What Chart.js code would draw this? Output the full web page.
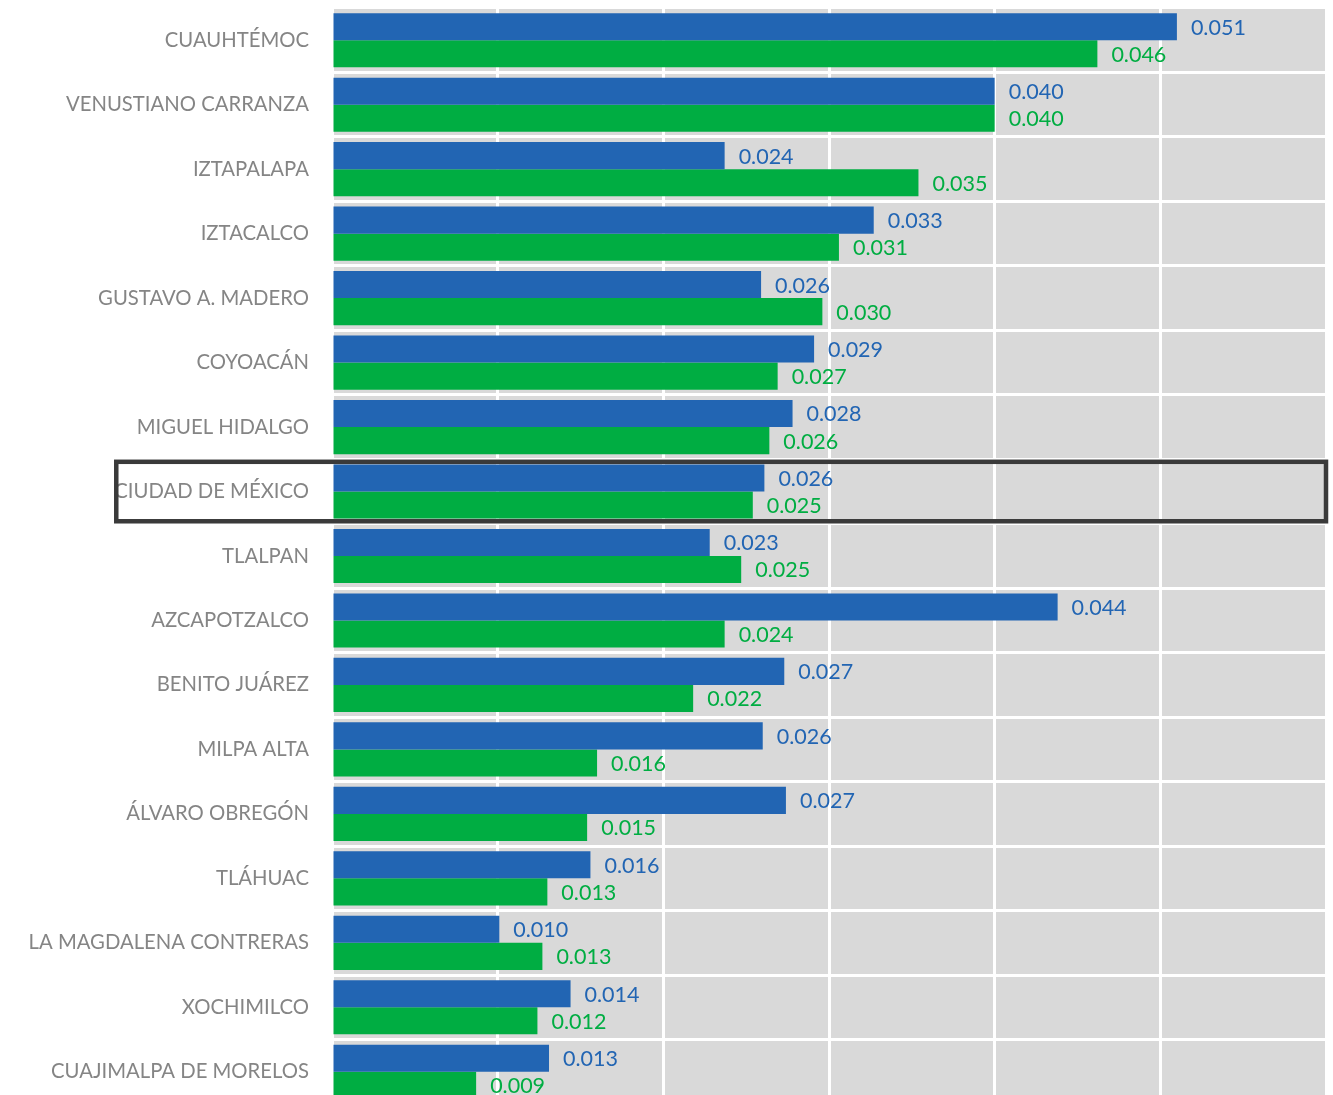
<!DOCTYPE html>
<html>
<head>
<meta charset="utf-8">
<script src="https://cdn.jsdelivr.net/npm/chart.js@4/dist/chart.umd.min.js"></script>
<style>
  html, body { margin: 0; padding: 0; background: #fff; overflow: hidden; }
  #wrap { position: relative; width: 1333px; height: 1104px; }
</style>
</head>
<body>
<div id="wrap"><canvas id="chart"></canvas></div>
<script>
// alcaldías, top to bottom
const categories = [
  "CUAUHTÉMOC", "VENUSTIANO CARRANZA", "IZTAPALAPA", "IZTACALCO",
  "GUSTAVO A. MADERO", "COYOACÁN", "MIGUEL HIDALGO", "CIUDAD DE MÉXICO",
  "TLALPAN", "AZCAPOTZALCO", "BENITO JUÁREZ", "MILPA ALTA",
  "ÁLVARO OBREGÓN", "TLÁHUAC", "LA MAGDALENA CONTRERAS", "XOCHIMILCO",
  "CUAJIMALPA DE MORELOS"
];
const blueValues = [
  0.0510, 0.0400, 0.0237, 0.0327, 0.0259, 0.0291, 0.0278, 0.0261,
  0.0228, 0.0438, 0.0273, 0.0260, 0.0274, 0.0156, 0.0101, 0.0144, 0.0131
];
const greenValues = [
  0.0462, 0.0400, 0.0354, 0.0306, 0.0296, 0.0269, 0.0264, 0.0254,
  0.0247, 0.0237, 0.0218, 0.0160, 0.0154, 0.0130, 0.0127, 0.0124, 0.0087
];
const highlightCategory = "CIUDAD DE MÉXICO";

const BLUE = "#2265b3";
const GREEN = "#00ad42";
const FONT = "Lato, 'Open Sans', sans-serif";
const CAT_FONT_SIZE = 20.3;

const plotBg = {
  id: "plotBg",
  beforeDraw(chart) {
    const { ctx, chartArea: a } = chart;
    ctx.save();
    ctx.fillStyle = "#d9d9d9";
    ctx.fillRect(a.left, a.top, a.right - a.left, a.bottom - a.top);
    ctx.restore();
  },
};

const valueLabels = {
  id: "valueLabels",
  afterDatasetsDraw(chart) {
    const ctx = chart.ctx;
    ctx.save();
    ctx.font = "21.5px " + FONT;
    ctx.textAlign = "left";
    ctx.textBaseline = "middle";
    chart.data.datasets.forEach((ds, i) => {
      const meta = chart.getDatasetMeta(i);
      ctx.fillStyle = ds.backgroundColor;
      meta.data.forEach((bar, j) => {
        ctx.fillText(ds.data[j].toFixed(3), bar.x + 14, bar.y + 1);
      });
    });
    ctx.restore();
  },
};

const highlightBox = {
  id: "highlightBox",
  afterDraw(chart) {
    const y = chart.scales.y;
    const idx = categories.indexOf(highlightCategory);
    if (idx < 0) return;
    const rowH = y.height / categories.length;
    const cy = y.getPixelForValue(idx);
    const ctx = chart.ctx;
    ctx.save();
    ctx.font = CAT_FONT_SIZE + "px " + FONT;
    const labelRight = y.right - y.options.ticks.padding;
    const left = labelRight - ctx.measureText(highlightCategory).width + 2;
    ctx.strokeStyle = "#3a3a3a";
    ctx.lineWidth = 4.5;
    ctx.strokeRect(left, cy - rowH / 2 + 2.5, chart.chartArea.right - left, rowH - 5);
    ctx.restore();
  },
};

new Chart(document.getElementById("chart"), {
  type: "bar",
  data: {
    labels: categories,
    datasets: [
      { label: "A", data: blueValues, backgroundColor: BLUE, barPercentage: 1, categoryPercentage: 0.84 },
      { label: "B", data: greenValues, backgroundColor: GREEN, barPercentage: 1, categoryPercentage: 0.84 },
    ],
  },
  options: {
    indexAxis: "y",
    responsive: true,
    maintainAspectRatio: false,
    animation: false,
    layout: { padding: { top: 8, right: 7, left: 0, bottom: 0 } },
    plugins: { legend: { display: false }, tooltip: { enabled: false } },
    scales: {
      x: {
        min: 0,
        max: 0.06,
        afterFit: (s) => { s.height = 0; s.paddingLeft = 0; s.paddingRight = 0; },
        ticks: { display: false, stepSize: 0.01 },
        grid: { color: "#ffffff", lineWidth: 3, drawTicks: false },
        border: { display: false },
      },
      y: {
        afterFit: (s) => { s.width = 332; s.paddingTop = 0; s.paddingBottom = 0; },
        ticks: { color: "#858585", font: { family: FONT, size: CAT_FONT_SIZE }, padding: 23 },
        grid: { color: "#ffffff", lineWidth: 3, drawTicks: false },
        border: { display: false },
      },
    },
  },
  plugins: [plotBg, valueLabels, highlightBox],
});
</script>
</body>
</html>
